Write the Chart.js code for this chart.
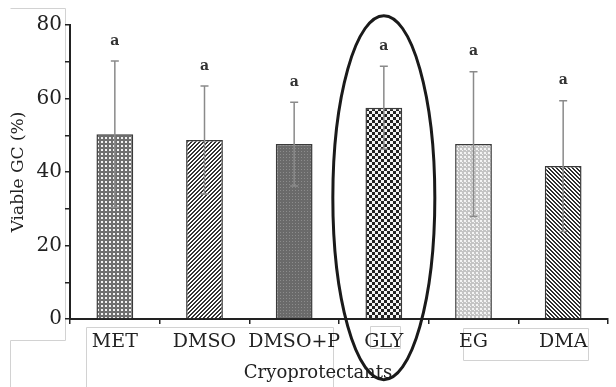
<!DOCTYPE html>
<html>
<head>
<meta charset="utf-8">
<script src="https://cdn.jsdelivr.net/npm/chart.js@4"></script>
<style>
  body { margin: 0; background: #fff; }
  #wrap { width: 616px; height: 387px; }
</style>
</head>
<body>
<div id="wrap"><canvas id="chart" width="616" height="387"></canvas></div>
<script>
const categories = ["MET", "DMSO", "DMSO+P", "GLY", "EG", "DMA"];
const viable = [50.3, 48.7, 47.6, 57.5, 47.6, 41.6];
const errors = [19.9, 14.7, 11.4, 11.3, 19.7, 17.8];
const letters = ["a", "a", "a", "a", "a", "a"];
const yTicks = [0, 20, 40, 60, 80];

const serif = "'DejaVu Serif', 'Liberation Serif', serif";
const canvas = document.getElementById("chart");
const ctx = canvas.getContext("2d");

// small tiles for the bar fills
function makePattern(size, draw) {
    const c = document.createElement("canvas");
    c.width = size; c.height = size;
    const g = c.getContext("2d");
    draw(g, size);
    return ctx.createPattern(c, "repeat");
}

const patterns = [
    // MET: gray grid with white squares
    makePattern(4, (g) => {
        g.fillStyle = "#6f6f6f"; g.fillRect(0, 0, 4, 4);
        g.fillStyle = "#f2f2f2"; g.fillRect(1, 1, 2, 2);
    }),
    // DMSO: "/" hatching
    makePattern(4, (g) => {
        g.fillStyle = "#ffffff"; g.fillRect(0, 0, 4, 4);
        g.fillStyle = "#333333";
        for (let x = 0; x < 4; x++) for (let y = 0; y < 4; y++)
            if ((x + y) % 4 < 2) g.fillRect(x, y, 1, 1);
    }),
    // DMSO+P: dark dotted gray
    makePattern(3, (g) => {
        g.fillStyle = "#6a6a6a"; g.fillRect(0, 0, 3, 3);
        g.fillStyle = "#8c8c8c"; g.fillRect(1, 1, 1, 1);
    }),
    // GLY: checkerboard
    makePattern(6, (g) => {
        g.fillStyle = "#f4f4f4"; g.fillRect(0, 0, 6, 6);
        g.fillStyle = "#222222"; g.fillRect(0, 0, 3, 3); g.fillRect(3, 3, 3, 3);
    }),
    // EG: light gray speckle
    makePattern(4, (g) => {
        g.fillStyle = "#c4c4c4"; g.fillRect(0, 0, 4, 4);
        g.fillStyle = "#f4f4f4"; g.fillRect(0, 0, 2, 2); g.fillRect(2, 2, 1, 1);
    }),
    // DMA: "\" hatching
    makePattern(4, (g) => {
        g.fillStyle = "#ffffff"; g.fillRect(0, 0, 4, 4);
        g.fillStyle = "#2e2e2e";
        for (let x = 0; x < 4; x++) for (let y = 0; y < 4; y++)
            if (((x - y) % 4 + 4) % 4 < 2) g.fillRect(x, y, 1, 1);
    })
];

// faint box outlines left over from the scan
const scanBoxes = {
    id: "scanBoxes",
    beforeDraw(chart) {
        const c = chart.ctx;
        c.save();
        c.strokeStyle = "#d2d2d2";
        c.lineWidth = 1;
        c.beginPath();
        c.moveTo(10.5, 8.5); c.lineTo(65.5, 8.5); c.lineTo(65.5, 340.5); c.lineTo(10.5, 340.5); c.lineTo(10.5, 387);
        c.moveTo(86.5, 387); c.lineTo(86.5, 327.5); c.lineTo(333.5, 327.5); c.lineTo(333.5, 387);
        c.rect(463.5, 328.5, 125, 32);
        c.rect(370.5, 326.5, 30, 22);
        c.stroke();
        c.restore();
    }
};

// error bars, letters, x title and the ellipse round GLY
const extras = {
    id: "extras",
    afterDatasetsDraw(chart) {
        const c = chart.ctx;
        const x = chart.scales.x, y = chart.scales.y;
        c.save();
        c.strokeStyle = "#8a8a8a";
        c.lineWidth = 1.5;
        viable.forEach((v, i) => {
            const px = x.getPixelForValue(i);
            const top = y.getPixelForValue(v + errors[i]);
            const bot = y.getPixelForValue(v - errors[i]);
            c.beginPath();
            c.moveTo(px, top); c.lineTo(px, bot);
            c.moveTo(px - 4, top); c.lineTo(px + 4, top);
            c.moveTo(px - 4, bot); c.lineTo(px + 4, bot);
            c.stroke();
            c.fillStyle = "#333";
            c.font = "bold 14px " + serif;
            c.textAlign = "center";
            c.textBaseline = "middle";
            c.fillText(letters[i], px, top - 20);
        });

        // axis title sits a bit left of centre in the original
        c.fillStyle = "#222";
        c.font = "18px " + serif;
        c.fillText("Cryoprotectants", (x.left + x.right) / 2 - 21, x.bottom - 14);

        const gx = x.getPixelForValue(categories.indexOf("GLY"));
        const gy = y.getPixelForValue(33);
        c.strokeStyle = "#1a1a1a";
        c.lineWidth = 3;
        c.beginPath();
        c.ellipse(gx, gy, 51, 182, 0, 0, Math.PI * 2);
        c.stroke();
        c.restore();
    }
};

new Chart(ctx, {
    type: "bar",
    data: {
        labels: categories,
        datasets: [{
            data: viable,
            backgroundColor: patterns,
            borderColor: "#3a3a3a",
            borderWidth: 1.5,
            barPercentage: 0.41,
            categoryPercentage: 1
        }]
    },
    options: {
        responsive: false,
        animation: false,
        layout: { padding: { left: 8, right: 8, top: 25, bottom: 0 } },
        plugins: { legend: { display: false }, tooltip: { enabled: false } },
        scales: {
            x: {
                grid: { drawOnChartArea: false, offset: true, tickLength: 5, color: "#222", lineWidth: 1.5 },
                border: { color: "#222", width: 2 },
                ticks: { color: "#222", padding: 7, maxRotation: 0, minRotation: 0, autoSkip: false,
                         font: { family: serif, size: 19 } },
                title: { display: false },
                afterFit: (s) => { s.height = 68; }
            },
            y: {
                min: 0, max: 80,
                grid: { drawOnChartArea: false, tickLength: 5, color: "#222", lineWidth: 1.5 },
                border: { color: "#222", width: 2 },
                ticks: {
                    stepSize: 10, color: "#222", padding: 3,
                    font: { family: serif, size: 20 },
                    callback: (v) => yTicks.includes(v) ? v : ""
                },
                title: { display: true, text: "Viable GC (%)", color: "#222", padding: { top: 0, bottom: 0 },
                         font: { family: serif, size: 17 } },
                afterFit: (s) => { s.width = 62; }
            }
        }
    },
    plugins: [scanBoxes, extras]
});
</script>
</body>
</html>
